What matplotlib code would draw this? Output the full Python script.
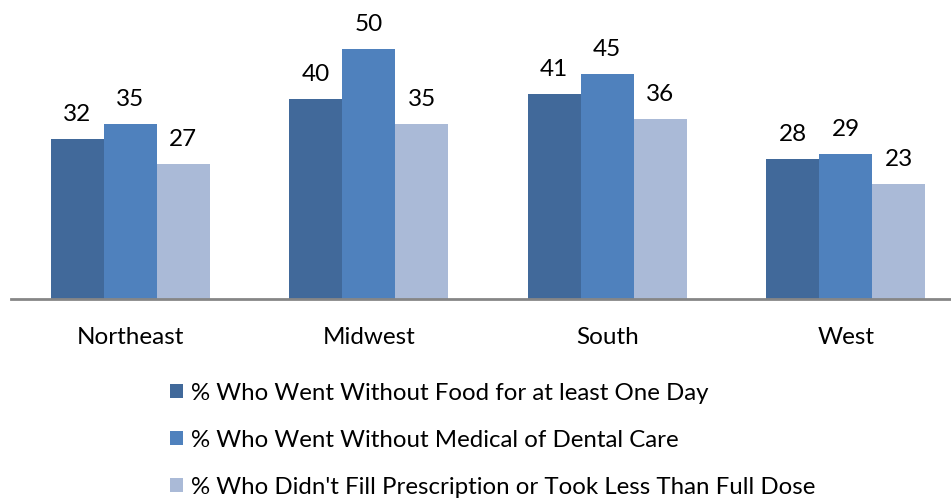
import numpy as np
import matplotlib.pyplot as plt

plt.rcParams['font.family'] = ['Lato', 'DejaVu Sans']

regions = ['Northeast', 'Midwest', 'South', 'West']
food = [32, 40, 41, 28]
care = [35, 50, 45, 29]
rx = [27, 35, 36, 23]
series = [
    ('% Who Went Without Food for at least One Day', food, '#41699a'),
    ('% Who Went Without Medical of Dental Care', care, '#4f81bd'),
    ("% Who Didn't Fill Prescription or Took Less Than Full Dose", rx, '#aabad7'),
]

fig = plt.figure(figsize=(9.51, 5), dpi=100)
ax = fig.add_axes([11/951, 201/500, 954/951, 300/500])

x = np.arange(len(regions))
w = 0.222
for i, (name, vals, col) in enumerate(series):
    bars = ax.bar(x + (i - 1) * w, vals, w, color=col, label=name)
    for b, v in zip(bars, vals):
        ax.annotate(str(v), (b.get_x() + b.get_width() / 2, v),
                    xytext=(0, 10), textcoords='offset points',
                    ha='center', va='bottom', fontsize=17.5)

ax.set_xlim(-0.5, 3.5)
ax.set_ylim(0, 60)
for s in ['top', 'right', 'left']:
    ax.spines[s].set_visible(False)
ax.spines['bottom'].set_color('#868686')
ax.spines['bottom'].set_linewidth(2)
ax.set_yticks([])
ax.set_xticks(x)
ax.set_xticklabels(regions, fontsize=17.5)
ax.tick_params(axis='x', length=0, pad=20)

fig.legend(loc='upper left', bbox_to_anchor=(160/951, 1 - 373/500),
           frameon=False, fontsize=17.3, handlelength=0.55, handleheight=0.55,
           handletextpad=0.35, labelspacing=1.08, borderaxespad=0)

fig.savefig('out.png', dpi=100)
